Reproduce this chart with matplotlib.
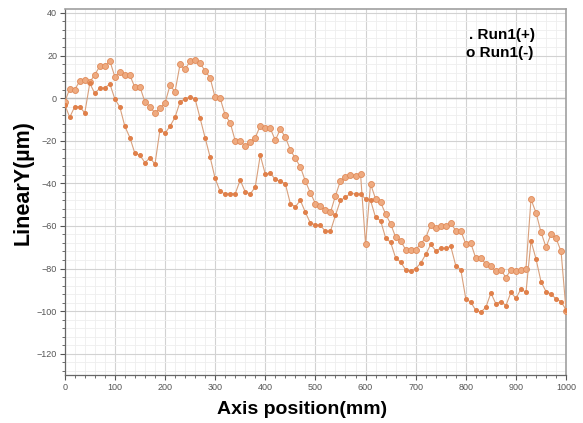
import numpy as np
import matplotlib
matplotlib.use("Agg")
import matplotlib.pyplot as plt
from matplotlib.ticker import MultipleLocator

# positions along the axis, every 10 mm
pos_mm = np.arange(0, 1001, 10)

# Run1(+) : small dots (lower curve)
run1_plus = [
    -3, -9, -4, -4, -7, 7, 2.2, 4.7, 4.7, 6.7,
    -0.4, -4.2, -13.3, -18.5, -26, -26.8, -30.3, -28, -31, -14.8,
    -16.5, -13.2, -9, -1.8, -0.3, 0.6, -0.3, -9.4, -18.6, -27.7,
    -37.7, -43.8, -45, -44.8, -44.9, -38.5, -44, -45, -41.8, -26.8,
    -35.7, -35.2, -38.2, -39, -40.2, -49.5, -51, -48, -53.6, -58.7,
    -59.4, -59.8, -62.5, -62.5, -55, -48, -46.6, -44.7, -45, -45,
    -47.3, -48, -56, -57.5, -65.6, -67.7, -75, -77, -80.6, -81.2,
    -80, -77.5, -73.4, -68.7, -71.6, -70.5, -70.5, -69.6, -78.7, -80.5,
    -94.3, -95.8, -99.7, -100.5, -98.2, -91.5, -96.6, -95.5, -97.4, -91.2,
    -94, -89.6, -91.2, -67, -75.5, -86.2, -90.8, -92, -94.3, -95.5,
    -99.5,
]

# Run1(-) : circles (upper curve)
run1_minus = [
    -2, 4.5, 4, 8, 8.7, 7.5, 11, 15, 15, 17.5,
    10, 12.3, 10.7, 10.7, 5, 5.3, -1.8, -4, -7, -4.8,
    -2.4, 6, 3, 15.8, 13.5, 17.3, 17.8, 16.4, 12.8, 9.5,
    0.3, 0, -8, -11.5, -20, -20.2, -22.5, -20.6, -18.6, -13,
    -13.8, -14.2, -19.8, -14.6, -18.3, -24.3, -28.3, -32.3, -39, -44.5,
    -49.5, -50.5, -52.6, -53.7, -45.8, -38.8, -37.2, -36, -36.4, -35.6,
    -68.5, -40.3, -47.3, -48.9, -54.4, -59, -65.3, -66.9, -71.2, -71.2,
    -71.2, -68.4, -65.6, -59.5, -61, -60, -60, -58.8, -62.2, -62.3,
    -68.5, -68.2, -75.2, -75.2, -77.8, -78.8, -81.3, -80.5, -84.3, -80.5,
    -81, -80.5, -80, -47.5, -53.8, -63, -70, -63.8, -65.8, -72,
    -100,
]

line_col = "#d9a07c"

fig = plt.figure(figsize=(5.83, 4.23), dpi=100)
ax = fig.add_axes([0.111, 0.1135, 0.86, 0.866])

ax.plot(pos_mm, run1_minus, color=line_col, lw=0.8, marker="o", ms=4.3,
        mfc="#eeaa80", mec="#e08a58", mew=0.6, zorder=3)
ax.plot(pos_mm, run1_plus, color=line_col, lw=0.8, marker="o", ms=2.6,
        mfc="#e0804a", mec="#e0804a", zorder=4)

ax.set_xlim(0, 1000)
ax.set_ylim(-130, 42)

ax.xaxis.set_major_locator(MultipleLocator(100))
ax.xaxis.set_minor_locator(MultipleLocator(20))
ax.yaxis.set_major_locator(MultipleLocator(20))
ax.yaxis.set_minor_locator(MultipleLocator(4))

ax.grid(which="major", color="#d2d2d2", lw=0.8)
ax.grid(which="minor", color="#eeeeee", lw=0.6)
ax.axhline(0, color="#bdbdbd", lw=1.0, zorder=1)
ax.set_axisbelow(True)

ax.tick_params(which="major", direction="out", length=3.5, width=0.8,
               color="#555555", labelsize=6.5, labelcolor="#555555", pad=2)
ax.tick_params(which="minor", direction="out", length=2, width=0.6,
               color="#555555")
for lab in ax.get_xticklabels() + ax.get_yticklabels():
    lab.set_family("Liberation Sans")

for side in ["top", "right"]:
    ax.spines[side].set_color("#a0a0a0")
    ax.spines[side].set_linewidth(1.2)
for side in ["left", "bottom"]:
    ax.spines[side].set_color("#666666")
    ax.spines[side].set_linewidth(0.9)

fig.text(302 / 583, 1 - 409 / 423, "Axis position(mm)", ha="center",
         va="center", fontsize=14, fontweight="bold", family="Liberation Sans")
fig.text(23 / 583, 1 - 183 / 423, "LinearY(\u00b5m)", ha="center",
         va="center", rotation=90, fontsize=15.5, fontweight="bold",
         family="Liberation Sans")

fig.text(535 / 583, 1 - 35 / 423, ". Run1(+)", ha="right", va="center",
         fontsize=11, fontweight="bold", family="Liberation Sans")
fig.text(533 / 583, 1 - 53 / 423, "o Run1(-)", ha="right", va="center",
         fontsize=11, fontweight="bold", family="Liberation Sans")

fig.savefig("out.png", dpi=100)
